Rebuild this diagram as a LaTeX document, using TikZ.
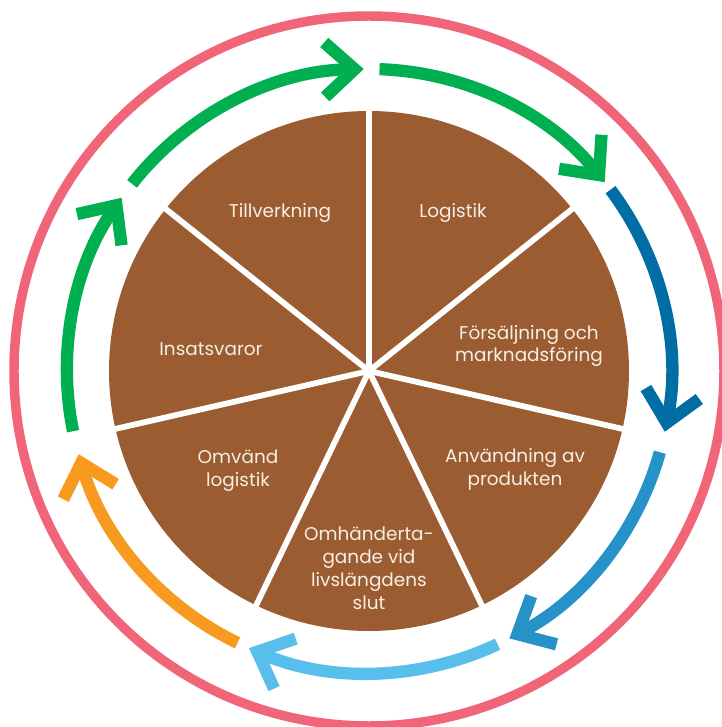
\documentclass[tikz,border=0pt]{standalone}
\usepackage{fontspec}
\setmainfont{Poppins}
\usepackage{tikz}
\usepackage{xcolor}
\usetikzlibrary{arrows.meta}
\definecolor{ringpink}{RGB}{240,101,120}
\definecolor{piebrown}{RGB}{155,92,49}
\definecolor{labelcream}{RGB}{246,239,231}
\definecolor{cyclegreen}{RGB}{0,176,80}
\definecolor{cycledarkblue}{RGB}{0,110,165}
\definecolor{cycleblue}{RGB}{38,146,200}
\definecolor{cyclelightblue}{RGB}{88,190,235}
\definecolor{cycleorange}{RGB}{247,154,32}
\tikzset{
    outer-ring/.style = {draw=ringpink, line width=5.4pt},
    pie-disc/.style = {fill=piebrown},
    sector-line/.style = {draw=white, line width=3.3pt},
    sector-label/.style = {text=labelcream, font=\fontsize{10.5}{13}\selectfont, align=center, inner sep=0pt},
    cycle-arrow/.style = {line width=7pt, -{Straight Barb[length=17pt, width=31pt]}},
}

\begin{document}
\begin{tikzpicture}[x=0.02cm, y=0.02cm]
\useasboundingbox (-369,-356) rectangle (352,371);
\draw[outer-ring] (0,0) circle (355);

\fill[pie-disc] (0,0) circle (260);
\draw[sector-line] (0,0) -- (90:265);
\draw[sector-line] (0,0) -- (38.57:265);
\draw[sector-line] (0,0) -- (-12.86:265);
\draw[sector-line] (0,0) -- (-64.29:265);
\draw[sector-line] (0,0) -- (-115.71:265);
\draw[sector-line] (0,0) -- (-167.14:265);
\draw[sector-line] (0,0) -- (141.43:265);

\node[sector-label] (tillverkning) at (-89,158) {Tillverkning};
\node[sector-label] (logistik) at (84,158) {Logistik};
\node[sector-label] (forsaljning) at (160,25) {Försäljning och\\marknadsföring};
\node[sector-label] (anvandning) at (146,-98) {Användning av\\produkten};
\node[sector-label] (omhandertagande) at (0,-197) {Omhänderta-\\gande vid\\livslängdens\\slut};
\node[sector-label] (omvand) at (-131,-100) {Omvänd\\logistik};
\node[sector-label] (insatsvaror) at (-158,22) {Insatsvaror};

\draw[cycle-arrow, cyclegreen] (141.7:302) arc[start angle=141.7, end angle=91, radius=302];
\draw[cycle-arrow, cyclegreen] (88:302) arc[start angle=88, end angle=38.7, radius=302];
\draw[cycle-arrow, cycledarkblue] (36.9:302) arc[start angle=36.9, end angle=-11.6, radius=302];
\draw[cycle-arrow, cycleblue] (-15.6:302) arc[start angle=-15.6, end angle=-62.3, radius=302];
\draw[cycle-arrow, cyclelightblue] (-64.8:302) arc[start angle=-64.8, end angle=-113.4, radius=302];
\draw[cycle-arrow, cycleorange] (-115.8:302) arc[start angle=-115.8, end angle=-164, radius=302];
\draw[cycle-arrow, cyclegreen] (-168.5:302) arc[start angle=-168.5, end angle=-215, radius=302];
\end{tikzpicture}
\end{document}
